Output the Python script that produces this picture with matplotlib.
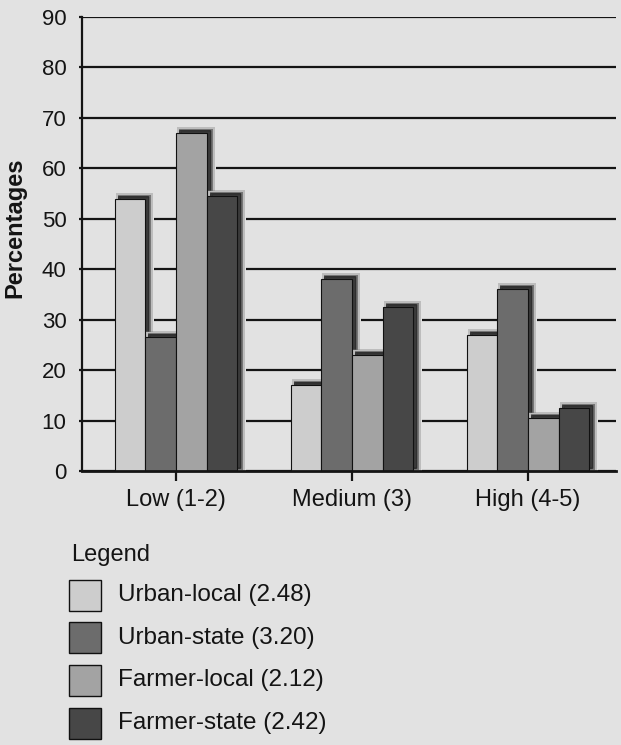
import numpy as np
import matplotlib.pyplot as plt
from matplotlib.patches import Rectangle
from matplotlib.transforms import offset_copy

plt.rcParams['font.family'] = ['Liberation Sans', 'DejaVu Sans']

# Data
categories = ["Low (1-2)", "Medium (3)", "High (4-5)"]
series = ["Urban-local (2.48)", "Urban-state (3.20)", "Farmer-local (2.12)", "Farmer-state (2.42)"]
urban_local = [54, 17, 27]
urban_state = [26.5, 38, 36]
farmer_local = [67, 23, 10.5]
farmer_state = [54.5, 32.5, 12.5]
values = [urban_local, urban_state, farmer_local, farmer_state]
colors = ["#cdcdcd", "#6c6c6c", "#a3a3a3", "#474747"]

bg = "#e2e2e2"
ink = "#141414"
px = 0.72  # points per pixel at dpi 100

fig = plt.figure(figsize=(6.21, 7.45), dpi=100, facecolor=bg)
ax = fig.add_axes([0.132, 0.3678, 0.86, 0.6094])
ax.set_facecolor(bg)

x = np.arange(len(categories))
w = 0.174

# shadow layers: (dx px, dy px, grow px, colour, alpha)
shadow_layers = [
    (5, 1, 8, bg, 1.0),
    (4, 3, 7, "#7a7a7a", 0.35),
    (4, 3, 3, "#3c3c3c", 0.55),
    (3, 3, 1, "#262626", 0.7),
]

for i, (vals, c) in enumerate(zip(values, colors)):
    xs = x + (i - 1.5) * w
    for dx, dy, grow, sc, sa in shadow_layers:
        tr = offset_copy(ax.transData, fig=fig, x=dx, y=dy, units="dots")
        for xi, v in zip(xs, vals):
            ax.add_patch(Rectangle((xi - w / 2, 0), w, v, transform=tr,
                                   facecolor=sc, edgecolor=sc, linewidth=grow * px,
                                   alpha=sa, joinstyle="miter", zorder=2.9))
    ax.bar(xs, vals, w, color=c, edgecolor="#111111", linewidth=0.8, zorder=3)

ax.set_xlim(-0.534, 2.5)
ax.set_ylim(0, 90)
ax.set_yticks(np.arange(0, 91, 10))
ax.set_xticks(x)
ax.set_xticklabels(categories)

ax.set_axisbelow(True)
ax.yaxis.grid(True, color=ink, linewidth=1.6)
ax.xaxis.grid(False)

for s in ["top", "right"]:
    ax.spines[s].set_visible(False)
ax.spines["left"].set_linewidth(1.6)
ax.spines["bottom"].set_linewidth(2.0)
for s in ["left", "bottom"]:
    ax.spines[s].set_color(ink)
    ax.spines[s].set_zorder(5)

ax.tick_params(axis="y", length=3 * px, width=1.6, color=ink, pad=9,
               labelsize=16, labelcolor=ink)
ax.tick_params(axis="x", length=10 * px, width=1.6, color=ink, pad=6,
               labelsize=17, labelcolor=ink)

fig.text(15 / 621, 1 - 228 / 745, "Percentages", fontsize=17, fontweight="bold",
         color=ink, rotation=90, ha="center", va="center")

# Legend block below the chart
fig.text(71 / 621, 1 - 555 / 745, "Legend", fontsize=17, color=ink, va="center", ha="left")
for i, (name, c) in enumerate(zip(series, colors)):
    yc = 595 + i * 42.7
    fig.patches.append(Rectangle((69 / 621, 1 - (yc + 15.5) / 745), 32 / 621, 31 / 745,
                                 transform=fig.transFigure, facecolor=c,
                                 edgecolor="#111111", linewidth=1.0))
    fig.text(118 / 621, 1 - yc / 745, name, fontsize=17.5, color=ink, va="center", ha="left")

fig.savefig("out.png", dpi=100, facecolor=bg)
